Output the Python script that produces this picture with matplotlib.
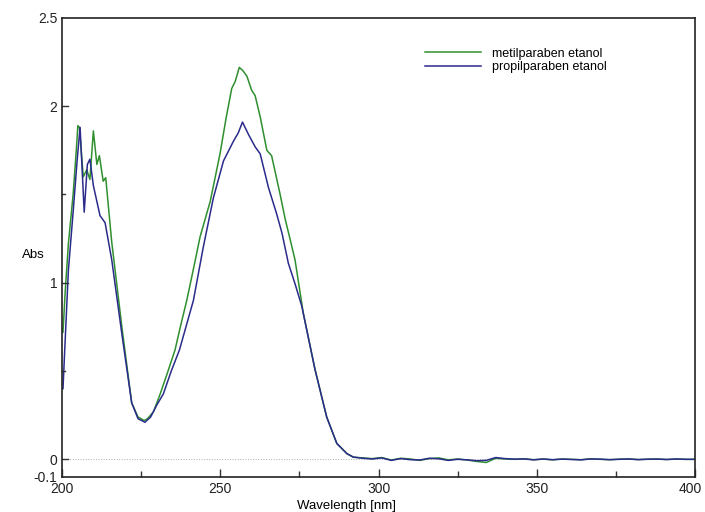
import numpy as np
import matplotlib.pyplot as plt
import matplotlib.transforms as mtransforms
from matplotlib.ticker import MultipleLocator, FixedLocator

# metilparaben etanol
wl_metil = [200.3, 201.0, 202.0, 203.5, 204.5, 205.0, 205.5, 206.7, 207.8, 208.8,
            209.9, 211.0, 211.8, 213.0, 213.8, 215.7, 218.9, 222.0, 224.0, 225.9,
            227.0, 228.9, 231.0, 233.3, 235.7, 237.5, 239.4, 242.0, 243.6, 246.8,
            249.9, 251.8, 253.6, 254.7, 256.0, 257.2, 258.4, 259.9, 261.0, 262.6,
            264.7, 266.2, 268.9, 270.5, 272.0, 273.6, 276.2, 279.9, 283.6, 286.8,
            290.0, 292.0]
abs_metil = [0.72, 0.95, 1.22, 1.50, 1.75, 1.89, 1.88, 1.60, 1.64, 1.585,
             1.86, 1.67, 1.72, 1.575, 1.595, 1.23, 0.75, 0.32, 0.24, 0.22,
             0.23, 0.27, 0.37, 0.49, 0.62, 0.76, 0.90, 1.12, 1.26, 1.46,
             1.73, 1.93, 2.10, 2.14, 2.22, 2.20, 2.17, 2.09, 2.06, 1.94,
             1.75, 1.72, 1.50, 1.36, 1.25, 1.13, 0.83, 0.51, 0.24, 0.09,
             0.032, 0.012]

# propilparaben etanol
wl_propil = [200.3, 200.8, 202.0, 203.5, 204.8, 205.7, 207.0, 208.0, 208.8, 209.9,
             212.0, 213.6, 215.7, 218.9, 222.0, 224.0, 226.2, 228.0, 230.0, 232.0,
             234.5, 237.1, 239.3, 241.5, 244.6, 247.8, 251.0, 254.1, 255.7, 257.0,
             258.9, 261.0, 262.6, 265.2, 267.8, 269.5, 271.5, 273.5, 275.7, 279.9,
             283.6, 286.8, 290.0, 292.0]
abs_propil = [0.40, 0.60, 1.07, 1.40, 1.70, 1.88, 1.40, 1.67, 1.70, 1.55,
              1.38, 1.34, 1.13, 0.71, 0.32, 0.23, 0.21, 0.24, 0.31, 0.37,
              0.50, 0.62, 0.76, 0.90, 1.20, 1.48, 1.69, 1.80, 1.85, 1.91,
              1.84, 1.77, 1.73, 1.54, 1.39, 1.28, 1.11, 1.00, 0.87, 0.51,
              0.24, 0.09, 0.032, 0.013]

# baseline beyond 292 nm
wl_tail = [295, 298, 301, 304, 307, 310, 313, 316, 319, 322, 325, 328, 331, 334,
           337, 340, 343, 346, 349, 352, 355, 358, 361, 364, 367, 370, 373, 376,
           379, 382, 385, 388, 391, 394, 397, 400]
tail_metil = [0.008, 0.004, 0.010, -0.004, 0.006, 0.002, -0.006, 0.004, 0.008, -0.003,
              0.002, -0.004, -0.012, -0.018, 0.006, 0.002, 0.000, 0.003, -0.002, 0.001,
              -0.003, 0.002, 0.000, -0.002, 0.003, 0.000, -0.002, 0.001, 0.002, -0.001,
              0.000, 0.002, -0.001, 0.001, 0.000, 0.000]
tail_propil = [0.006, 0.002, 0.008, -0.006, 0.004, -0.002, -0.004, 0.006, 0.003, -0.006,
               0.000, -0.003, -0.008, -0.006, 0.010, 0.004, 0.001, 0.002, -0.003, 0.002,
               -0.002, 0.001, -0.001, -0.003, 0.002, 0.001, -0.002, 0.000, 0.002, -0.002,
               0.001, 0.001, -0.001, 0.002, 0.000, 0.000]

green = "#2f8f2f"
navy = "#2b2b8c"

plt.rcParams["font.family"] = ["Liberation Sans", "DejaVu Sans"]

fig = plt.figure(figsize=(7.05, 5.12), dpi=100)
ax = fig.add_axes([0.088, 0.0684, 0.898, 0.8966])

ax.axhline(0, color="#aaaaaa", lw=0.7, ls=":")
ax.plot(wl_metil + wl_tail, abs_metil + tail_metil, color=green, lw=1.1,
        label="metilparaben etanol")
ax.plot(wl_propil + wl_tail, abs_propil + tail_propil, color=navy, lw=1.1,
        label="propilparaben etanol")

ax.set_xlim(200, 400)
ax.set_ylim(-0.1, 2.5)
ax.xaxis.set_major_locator(MultipleLocator(50))
ax.xaxis.set_minor_locator(MultipleLocator(25))
ax.yaxis.set_major_locator(FixedLocator([-0.1, 0, 1, 2, 2.5]))
ax.yaxis.set_minor_locator(FixedLocator([0.5, 1.5]))
ax.set_yticklabels(["-0.1", "0", "1", "2", "2.5"])
ax.tick_params(which="both", direction="in", labelsize=10, width=1, colors="#333333",
               labelcolor="#222222")
ax.tick_params(which="major", length=6)
ax.tick_params(which="minor", length=4)
ax.tick_params(axis="y", which="both", length=0)
for v in [0, 1, 2]:
    ax.plot([200, 202], [v, v], color="#333333", lw=1, clip_on=False)
for v in [0.5, 1.5]:
    ax.plot([200, 201], [v, v], color="#333333", lw=1, clip_on=False)
for s in ax.spines.values():
    s.set_linewidth(1.2)
    s.set_color("#222222")

# keep the "400" label inside the figure
fig.canvas.draw()
last = [t for t in ax.get_xticklabels() if t.get_text() == "400"]
for t in last:
    t.set_transform(t.get_transform() + mtransforms.ScaledTranslation(-5 / 100, 0, fig.dpi_scale_trans))

fig.text(0.047, 0.502, "Abs", fontsize=9.5, ha="center", va="center")
fig.text(0.492, 0.012, "Wavelength [nm]", fontsize=9.5, ha="center", va="center")

ax.legend(loc="upper left", bbox_to_anchor=(0.555, 0.96), frameon=False, fontsize=9,
          handlelength=4.5, handletextpad=0.9, labelspacing=0.15)

fig.savefig("out.png", dpi=100)
